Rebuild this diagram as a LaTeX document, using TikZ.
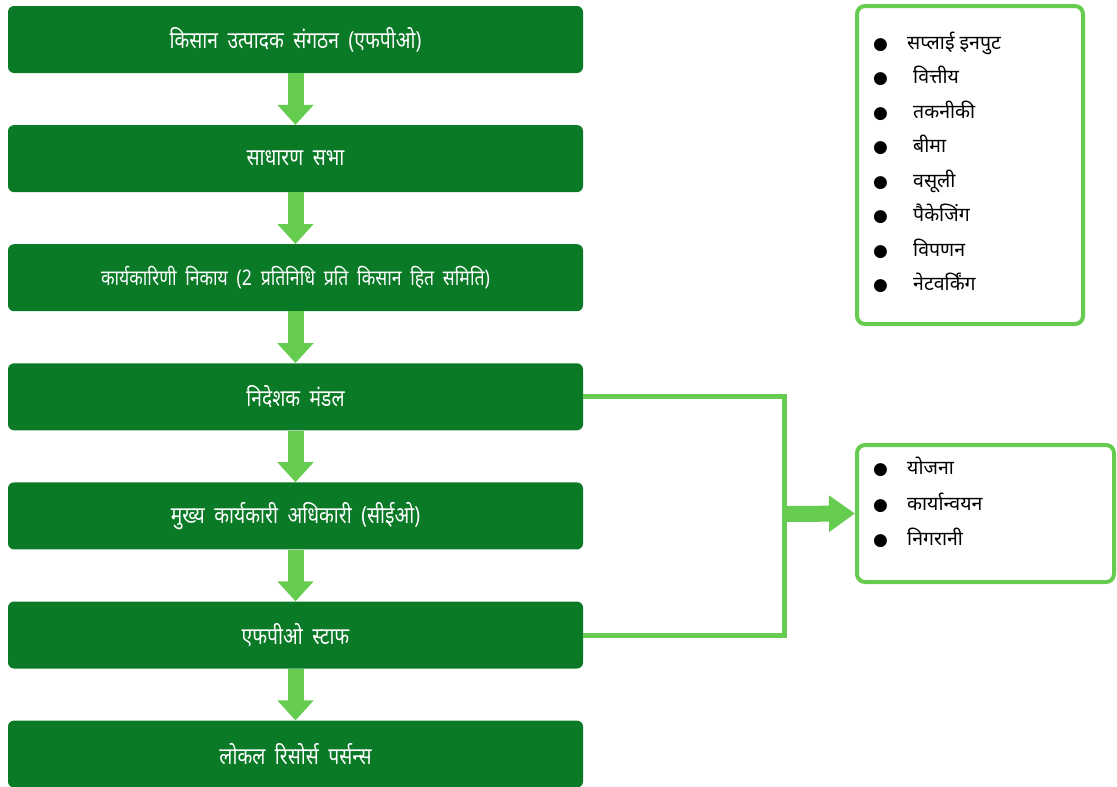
\documentclass[tikz,border=0pt]{standalone}
\usepackage{fontspec}
\usepackage{xcolor}
\usetikzlibrary{positioning,arrows.meta}
\newfontfamily\hindi[Script=Devanagari]{Noto Sans}
\newfontfamily\hindinarrow[Script=Devanagari,FakeStretch=0.82,WordSpace=1.9]{Noto Sans}
\newfontfamily\symfont{DejaVu Sans}
\definecolor{fpogreen}{HTML}{0A7A27}
\definecolor{leafgreen}{HTML}{66CC4F}
\newcommand{\bulletrow}[2][0pt]{\makebox[34pt][l]{\symfont\fontsize{17}{17}\selectfont ●}\hspace*{#1}#2}

\begin{document}
\begin{tikzpicture}[x=1pt, y=-1pt,
      stage/.style={fill=fpogreen, rounded corners=6pt, text=white, align=center,
                    minimum width=575pt, minimum height=67pt, inner sep=2pt,
                    font=\hindinarrow\fontsize{23.5}{27}\selectfont},
      panel/.style={draw=leafgreen, line width=4pt, rounded corners=8pt, fill=white},
      itemlist/.style={inner sep=0pt, align=left, text=black,
                       font=\hindi\fontsize{19.5}{34.5}\selectfont},
      flow/.style={draw=leafgreen, line width=16pt, -{Triangle[width=35pt,length=20pt]}},
      link/.style={draw=leafgreen, line width=5pt},
      node distance=51.7pt]
    \useasboundingbox (0,0) rectangle (1117,787);
    % main hierarchy
    \node[stage] (s1) at (295.5,39.5) {किसान उत्पादक संगठन (एफपीओ)};
    \node[stage, below=of s1] (s2) {साधारण सभा};
    \node[stage, below=of s2, font=\hindinarrow\fontsize{21.5}{25}\selectfont] (s3)
      {कार्यकारिणी निकाय (2 प्रतिनिधि प्रति किसान हित समिति)};
    \node[stage, below=of s3] (s4) {निदेशक मंडल};
    \node[stage, below=of s4] (s5) {मुख्य कार्यकारी अधिकारी (सीईओ)};
    \node[stage, below=of s5] (s6) {एफपीओ स्टाफ};
    \node[stage, below=of s6] (s7) {लोकल रिसोर्स पर्सन्स};
    \draw[flow] (s1) -- (s2);
    \draw[flow] (s2) -- (s3);
    \draw[flow] (s3) -- (s4);
    \draw[flow] (s4) -- (s5);
    \draw[flow] (s5) -- (s6);
    \draw[flow] (s6) -- (s7);
    % side panels
    \node[panel, minimum width=226pt, minimum height=318pt] (services) at (970,165) {};
    \node[itemlist, anchor=west] (servicelist) at (873,162.5)
      {\bulletrow{सप्लाई इनपुट}\\ \bulletrow[6pt]{वित्तीय}\\ \bulletrow[6pt]{तकनीकी}\\
       \bulletrow[6pt]{बीमा}\\ \bulletrow[6pt]{वसूली}\\ \bulletrow[6pt]{पैकेजिंग}\\
       \bulletrow[6pt]{विपणन}\\ \bulletrow[6pt]{नेटवर्किंग}};
    \node[panel, minimum width=257pt, minimum height=137pt] (tasks) at (985.5,513.5) {};
    \node[itemlist, anchor=west, font=\hindi\fontsize{19.5}{35.5}\selectfont] (tasklist) at (873,502.5)
      {\bulletrow{योजना}\\ \bulletrow{कार्यान्वयन}\\ \bulletrow{निगरानी}};
    % board and staff feed the tasks
    \coordinate (hub) at (784,514);
    \draw[link] (s4.east) -| (hub) |- (s6.east);
    \draw[flow, -{Triangle[width=35pt,length=26pt]}] (hub) -- (tasks.west);
  \end{tikzpicture}
\end{document}
